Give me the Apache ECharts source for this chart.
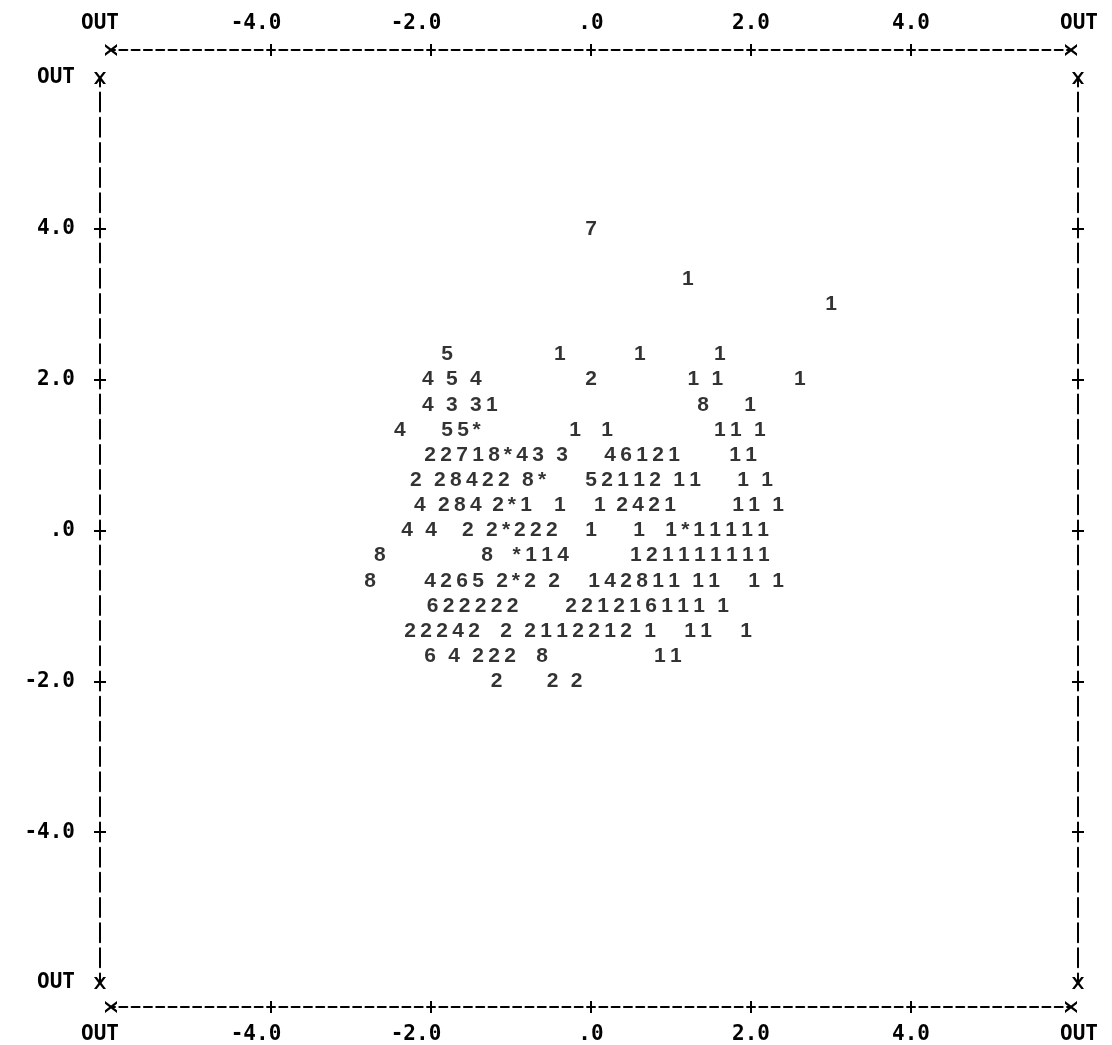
<!DOCTYPE html>
<html>
<head>
<meta charset="utf-8">
<title>Scatterplot</title>
<script src="https://cdn.jsdelivr.net/npm/echarts@6.0.0/dist/echarts.min.js"></script>
<style>
  html, body { margin: 0; padding: 0; background: #fff; }
  #chart { width: 1112px; height: 1045px; }
</style>
</head>
<body>
<div id="chart"></div>
<script>
  // one printed line per row: its y level, the symbols (blanks only for reading)
  // and the x position of every non-blank symbol
  const rowY = [4.0, 3.333, 3.0, 2.333, 2.0, 1.667, 1.333, 1.0, 0.667, 0.333, 0.0,
    -0.333, -0.667, -1.0, -1.333, -1.667, -2.0];
  const rowText = [
    '7',
    '1',
    '1',
    '5 1 1 1',
    '4 5 4 2 1 1 1',
    '4 3 31 8 1',
    '4 55* 1 1 11 1',
    '22718*43 3 46121 11',
    '2 28422 8* 52112 11 1 1',
    '4 284 2*1 1 1 2421 11 1',
    '4 4 2 2*222 1 1 1*11111',
    '8 8 *114 121111111',
    '8 4265 2*2 2 142811 11 1 1',
    '622222 221216111 1',
    '22242 2 2112212 1 11 1',
    '6 4 222 8 11',
    '2 2 2'
  ];
  const rowX = [
    [0.00],
    [1.21],
    [3.00],
    [-1.80, -0.39, 0.61, 1.61],
    [-2.04, -1.74, -1.44, 0.00, 1.28, 1.58, 2.61],
    [-2.04, -1.74, -1.44, -1.24, 1.40, 1.99],
    [-2.39, -1.80, -1.60, -1.43, -0.20, 0.20, 1.61, 1.81, 2.11],
    [-2.01, -1.81, -1.61, -1.41, -1.21, -1.04, -0.86, -0.66, -0.36, 0.24, 0.44, 0.64, 0.84, 1.04, 1.80, 2.00],
    [-2.19, -1.89, -1.69, -1.49, -1.29, -1.09, -0.79, -0.61, 0.00, 0.20, 0.40, 0.60, 0.80, 1.10, 1.30, 1.90, 2.20],
    [-2.14, -1.84, -1.64, -1.44, -1.16, -0.99, -0.81, -0.39, 0.11, 0.39, 0.59, 0.79, 0.99, 1.84, 2.04, 2.34],
    [-2.30, -2.00, -1.54, -1.24, -1.06, -0.89, -0.69, -0.49, 0.00, 0.60, 1.00, 1.18, 1.35, 1.55, 1.75, 1.95, 2.15],
    [-2.64, -1.30, -0.93, -0.75, -0.55, -0.35, 0.56, 0.76, 0.96, 1.16, 1.36, 1.56, 1.76, 1.96, 2.16],
    [-2.76, -2.01, -1.81, -1.61, -1.41, -1.11, -0.94, -0.76, -0.46, 0.04, 0.24, 0.44, 0.64, 0.84, 1.04, 1.34, 1.54, 2.04, 2.34],
    [-1.98, -1.78, -1.58, -1.38, -1.18, -0.98, -0.25, -0.05, 0.15, 0.35, 0.55, 0.75, 0.95, 1.15, 1.35, 1.65],
    [-2.26, -2.06, -1.86, -1.66, -1.46, -1.06, -0.76, -0.56, -0.36, -0.16, 0.04, 0.24, 0.44, 0.74, 1.24, 1.44, 1.94],
    [-2.01, -1.71, -1.41, -1.21, -1.01, -0.61, 0.86, 1.06],
    [-1.18, -0.48, -0.18]
  ];

  const xTickValues = [-6, -4, -2, 0, 2, 4, 6];
  const xTickText = ['OUT', '-4.0', '-2.0', '.0', '2.0', '4.0', 'OUT'];
  const yTickValues = [-6, -4, -2, 0, 2, 4, 6];
  const yTickText = ['OUT', '-4.0', '-2.0', '.0', '2.0', '4.0', 'OUT'];
  const plusValues = [-4, -2, 0, 2, 4];

  const points = [];
  rowText.forEach((txt, i) => {
    const chars = txt.replace(/ /g, '');
    for (let k = 0; k < chars.length; k++) {
      points.push([rowX[i][k], rowY[i], chars[k]]);
    }
  });

  const dataFont = { fontFamily: 'Liberation Sans', fontWeight: 'bold', fontSize: 21, color: '#000' };
  const tickFont = { fontFamily: 'DejaVu Sans Mono', fontWeight: 'bold', fontSize: 21, color: '#000' };
  const X_MARK = 'path://M0,0L2.3,0L5,3.5L7.7,0L10,0L6.3,5L10,10L7.7,10L5,6.5L2.3,10L0,10L3.7,5Z';

  function xLabel(v) {
    const t = xTickText[xTickValues.indexOf(v)];
    if (v === -6) return '{ol|' + t + '}';
    if (v === 6) return '{or|' + t + '}';
    if (v < 0) return '{neg|' + t + '}';
    return '{n|' + t + '}';
  }
  const xRich = {
    n: tickFont,
    neg: Object.assign({ padding: [0, 30, 0, 0] }, tickFont),
    ol: Object.assign({ padding: [0, 22, 0, 0] }, tickFont),
    or: Object.assign({ padding: [0, 0, 0, 16] }, tickFont)
  };

  // frame line with X at the ends and + crossings (two axes per side: ticks out and in)
  function xAxes(position, offset, margin) {
    const base = { type: 'value', min: -6, max: 6, interval: 2, position: position, offset: offset,
      splitLine: { show: false } };
    return [
      Object.assign({}, base, {
        axisLine: { show: true, onZero: false, symbol: [X_MARK, X_MARK], symbolSize: [12, 13],
          lineStyle: { color: '#000', width: 2, type: [8, 4.308], dashOffset: 4 } },
        axisTick: { show: true, customValues: plusValues, length: 6, lineStyle: { color: '#000', width: 2 } },
        axisLabel: { show: true, customValues: xTickValues, margin: margin, formatter: xLabel, rich: xRich }
      }),
      Object.assign({}, base, {
        axisLine: { show: false, onZero: false },
        axisTick: { show: true, inside: true, customValues: plusValues, length: 6, lineStyle: { color: '#000', width: 2 } },
        axisLabel: { show: false }
      })
    ];
  }
  function yAxes(position, offset, withLabels) {
    const base = { type: 'value', min: -6, max: 6, interval: 2, position: position, offset: offset,
      splitLine: { show: false } };
    return [
      Object.assign({}, base, {
        axisLine: { show: true, onZero: false, symbol: [X_MARK, X_MARK], symbolSize: [12, 13],
          lineStyle: { color: '#000', width: 2, type: [19, 6.17], dashOffset: 9.5 } },
        axisTick: { show: true, customValues: plusValues, length: 6, lineStyle: { color: '#000', width: 2 } },
        axisLabel: Object.assign({ show: withLabels, customValues: yTickValues, margin: 25,
          formatter: v => yTickText[yTickValues.indexOf(v)] }, tickFont)
      }),
      Object.assign({}, base, {
        axisLine: { show: false, onZero: false },
        axisTick: { show: true, inside: true, customValues: plusValues, length: 6, lineStyle: { color: '#000', width: 2 } },
        axisLabel: { show: false }
      })
    ];
  }

  const chart = echarts.init(document.getElementById('chart'));
  chart.setOption({
    animation: false,
    backgroundColor: '#fff',
    grid: { left: 111, right: 41, top: 78, bottom: 61 },
    xAxis: xAxes('top', 28, 16).concat(xAxes('bottom', 24, 17)),
    yAxis: yAxes('left', 11, true).concat(yAxes('right', 7, false)),
    series: [{
      type: 'scatter',
      xAxisIndex: 0,
      yAxisIndex: 0,
      data: points,
      symbol: 'circle',
      symbolSize: 1,
      clip: false,
      silent: true,
      itemStyle: { color: 'rgba(0,0,0,0)' },
      label: Object.assign({ show: true, position: 'inside', formatter: p => p.data[2] }, dataFont),
      emphasis: { disabled: true }
    }]
  });
</script>
</body>
</html>
